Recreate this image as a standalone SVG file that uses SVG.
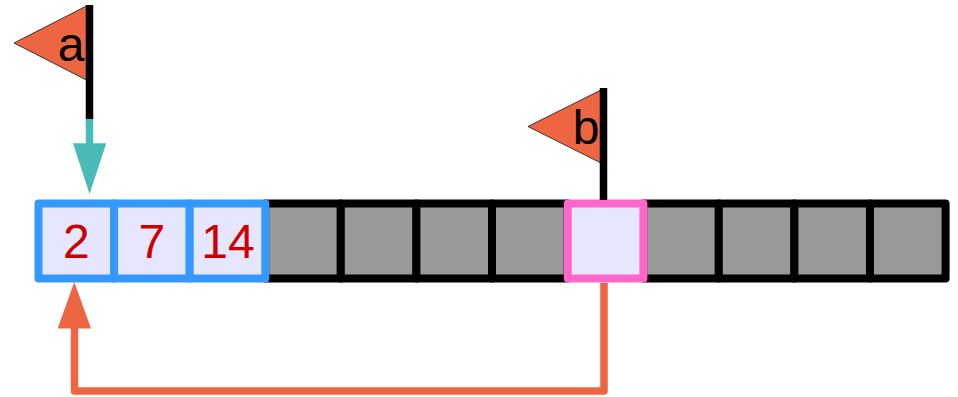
<svg xmlns="http://www.w3.org/2000/svg" width="958" height="397" viewBox="0 0 958 397">
<style>
.g{fill:#999;stroke:#000}
.u{fill:#e6e6ff;stroke:#39f}
.p{fill:#e6e6ff;stroke:#f6c}
.g,.u,.p{stroke-width:8;stroke-linejoin:round}
.n{font:48px "Liberation Sans",Arial,sans-serif;fill:#c00;text-anchor:middle}
.f{font:48px "Liberation Sans",Arial,sans-serif;fill:#000;text-anchor:middle}
.flag{fill:#ee6541;stroke:#333;stroke-width:1}
</style>
<g id="cells-empty">
<rect class="g" x="265.2" y="203.500" width="75.6" height="75"/>
<rect class="g" x="340.8" y="203.500" width="75.6" height="75"/>
<rect class="g" x="416.4" y="203.500" width="75.6" height="75"/>
<rect class="g" x="492" y="203.500" width="75.6" height="75"/>
<rect class="g" x="643.2" y="203.500" width="75.6" height="75"/>
<rect class="g" x="718.8" y="203.500" width="75.6" height="75"/>
<rect class="g" x="794.4" y="203.500" width="75.6" height="75"/>
<rect class="g" x="870" y="203.500" width="75.6" height="75"/>
</g>
<g id="cell-2"><rect class="u" x="38.500" y="203.500" width="75.6" height="75"/><text class="n" x="76.300" y="258">2</text></g>
<g id="cell-7"><rect class="u" x="114.1" y="203.500" width="75.6" height="75"/><text class="n" x="151.900" y="258">7</text></g>
<g id="cell-14"><rect class="u" x="189.7" y="203.500" width="75.6" height="75"/><text class="n" x="228" y="258">14</text></g>
<g id="cell-pink"><rect class="p" x="567.800" y="203.500" width="75.6" height="75"/></g>
<g id="connectors">
<path d="M89.500 118V145" fill="none" stroke="#4abab9" stroke-width="7.500"/>
<path d="M73 143.300H106.300L89.500 194Z" fill="#4abab9"/>
<path d="M604 283V391H74.500V326" fill="none" stroke="#ee6541" stroke-width="7.500" stroke-linejoin="round"/>
<path d="M57.700 328.500H91L74.300 282Z" fill="#ee6541"/>
</g>
<g id="flag-a">
<path class="flag" d="M14 43L86.500 6V80Z"/>
<path d="M89.500 5V119" stroke="#000" stroke-width="7.500"/>
<text class="f" x="71" y="60.500">a</text>
</g>
<g id="flag-b">
<path class="flag" d="M528 126.500L601 90V163Z"/>
<path d="M603.500 88V200" stroke="#000" stroke-width="7.500"/>
<text class="f" x="586" y="143.500">b</text>
</g>
</svg>
